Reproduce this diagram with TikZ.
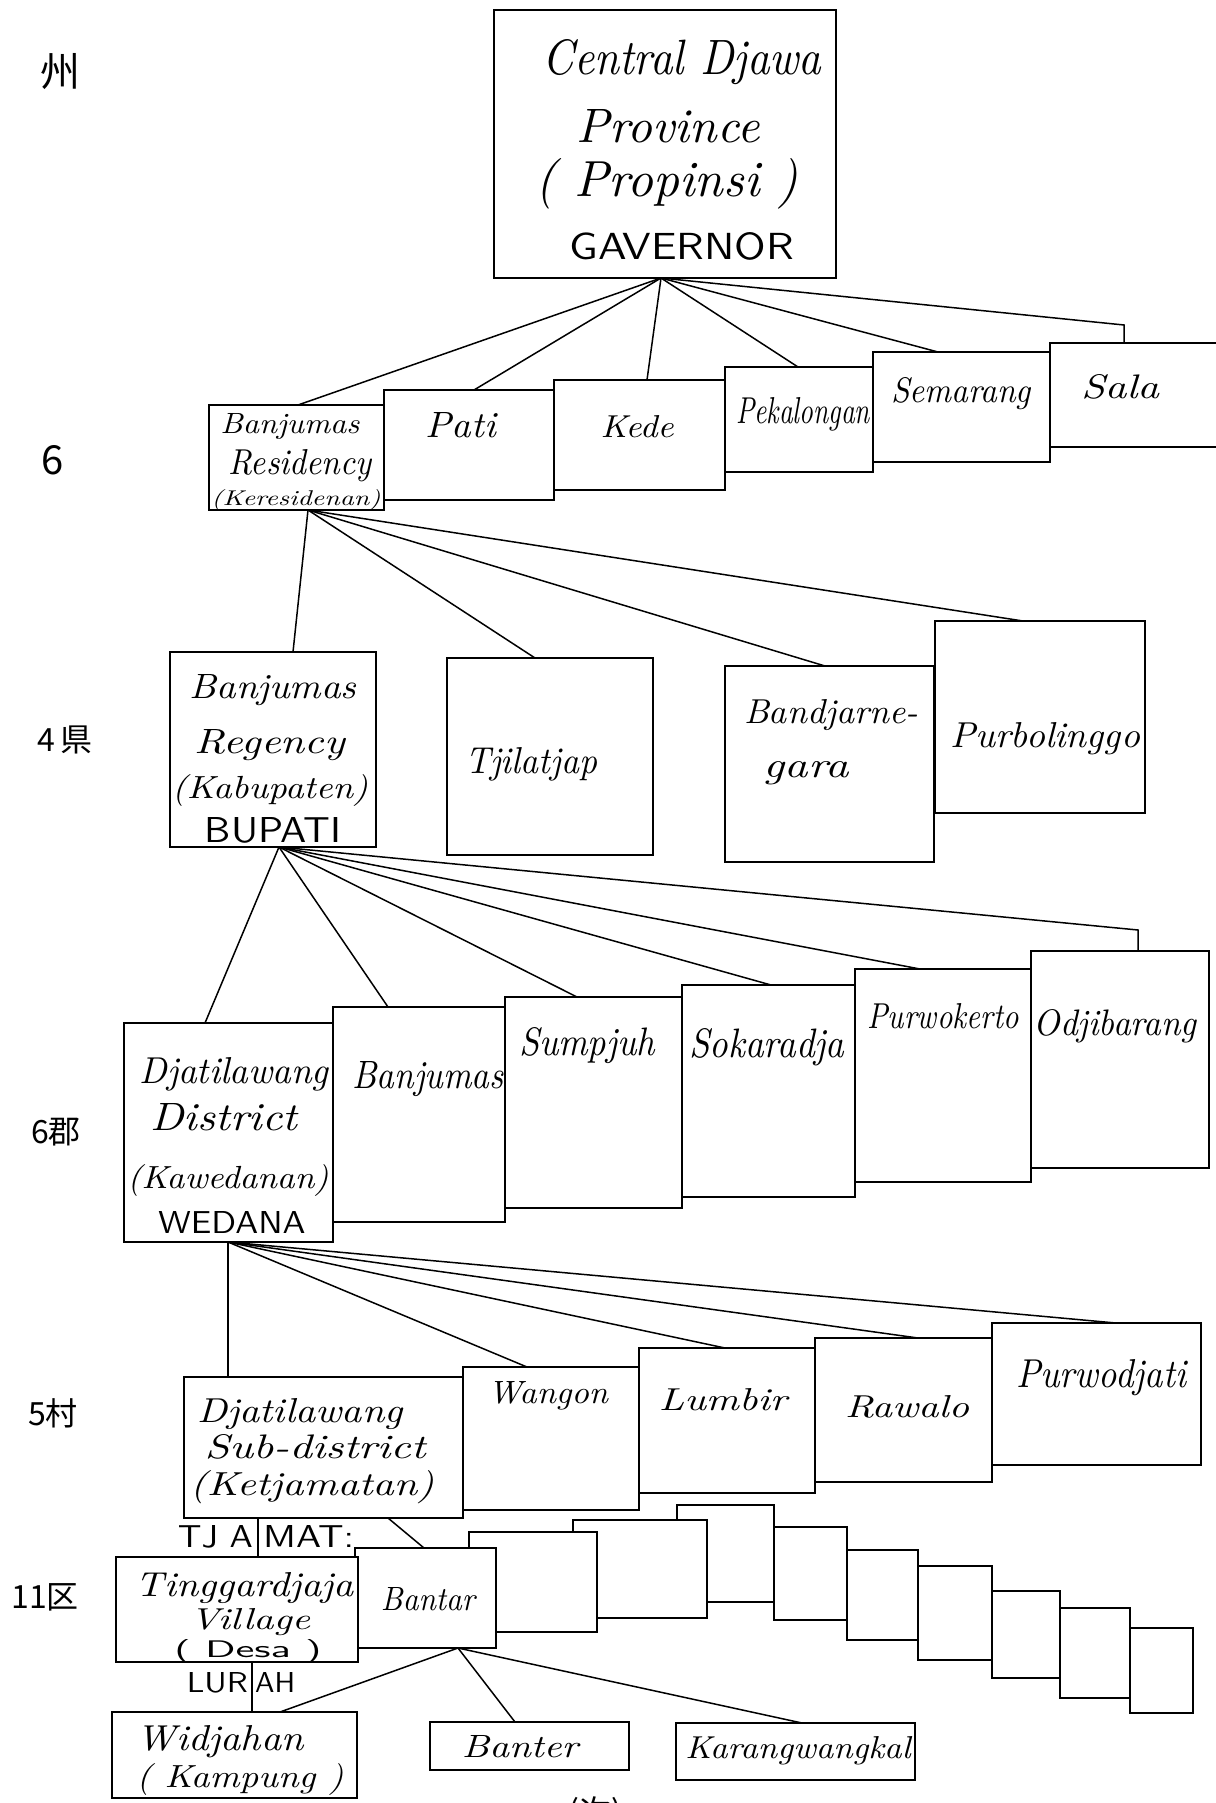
\documentclass[tikz,border=0pt]{standalone}
\usepackage{fontspec}
\usepackage{graphicx}
\newfontfamily\cjk{Noto Sans CJK JP}
\usetikzlibrary{calc}
\newcommand\fitw[3][!]{\resizebox{#2pt}{#1}{#3}}
\newcommand\mkbox[5]{\node[box, minimum width={(#4-#2)*1pt}, minimum height={(#5-#3)*1pt}] (#1) at ({(#2+#4)/2},{(#3+#5)/2}) {};}
\begin{document}
\begin{tikzpicture}[x=1pt,y=-1pt,
  box/.style={draw, line width=1.6pt, fill=white, inner sep=0pt, outer sep=0pt},
  conn/.style={line width=1.5pt},
  hw/.style={inner sep=0pt, anchor=base, font=\itshape},
  capt/.style={inner sep=0pt, anchor=base, font=\sffamily},
  side/.style={inner sep=0pt, font=\cjk\fontsize{32}{32}\selectfont}]
\useasboundingbox[fill=white] (0,0) rectangle (1215,1803);

% ---------- boxes ----------
\mkbox{Gov}{494}{10}{836}{278}
\mkbox{R1}{209}{405}{384}{510}
\mkbox{R2}{384}{390}{554}{500}
\mkbox{R3}{554}{380}{725}{490}
\mkbox{R4}{725}{367}{873}{472}
\mkbox{R5}{873}{352}{1050}{462}
\mkbox{R6}{1050}{343}{1240}{447}
\mkbox{G1}{170}{652}{376}{847}
\mkbox{G2}{447}{658}{653}{855}
\mkbox{G3}{725}{666}{934}{862}
\mkbox{G4}{935}{621}{1145}{813}
\mkbox{D1}{124}{1023}{333}{1242}
\mkbox{D2}{333}{1007}{505}{1222}
\mkbox{D3}{505}{997}{682}{1208}
\mkbox{D4}{682}{985}{855}{1197}
\mkbox{D5}{855}{969}{1031}{1182}
\mkbox{D6}{1031}{951}{1209}{1168}
\mkbox{S1}{184}{1377}{463}{1518}
\mkbox{S2}{463}{1367}{639}{1510}
\mkbox{S3}{639}{1348}{815}{1493}
\mkbox{S4}{815}{1338}{992}{1482}
\mkbox{S5}{992}{1323}{1201}{1465}
\mkbox{B9}{1130}{1628}{1193}{1713}
\mkbox{B8}{1060}{1608}{1130}{1698}
\mkbox{B7}{992}{1591}{1060}{1678}
\mkbox{B6}{918}{1566}{992}{1660}
\mkbox{B5}{847}{1550}{918}{1640}
\mkbox{B4}{774}{1527}{847}{1620}
\mkbox{B3}{677}{1505}{774}{1602}
\mkbox{B2}{573}{1520}{707}{1618}
\mkbox{B1}{469}{1532}{597}{1632}
\mkbox{V2}{355}{1548}{496}{1648}
\mkbox{V1}{116}{1557}{358}{1662}
\mkbox{K1}{112}{1712}{357}{1798}
\mkbox{K2}{430}{1722}{629}{1770}
\mkbox{K3}{676}{1723}{915}{1780}

% ---------- connectors ----------
\coordinate (a1) at ([xshift=167pt]Gov.south west);
\draw[conn] (a1) -- ([xshift=89pt]R1.north west);
\draw[conn] (a1) -- ([xshift=90pt]R2.north west);
\draw[conn] (a1) -- ([xshift=93pt]R3.north west);
\draw[conn] (a1) -- ([xshift=73pt]R4.north west);
\draw[conn] (a1) -- ([xshift=65pt]R5.north west);
\draw[conn] (a1) -- ([xshift=74pt,yshift=18pt]R6.north west) -- ([xshift=74pt]R6.north west);

\coordinate (b1) at ([xshift=99pt]R1.south west);
\draw[conn] (b1) -- ([xshift=123pt]G1.north west);
\draw[conn] (b1) -- ([xshift=88pt]G2.north west);
\draw[conn] (b1) -- ([xshift=100pt]G3.north west);
\draw[conn] (b1) -- ([xshift=88pt]G4.north west);

\coordinate (c1) at ([xshift=109pt]G1.south west);
\draw[conn] (c1) -- ([xshift=81pt]D1.north west);
\draw[conn] (c1) -- ([xshift=55pt]D2.north west);
\draw[conn] (c1) -- ([xshift=72pt]D3.north west);
\draw[conn] (c1) -- ([xshift=89pt]D4.north west);
\draw[conn] (c1) -- ([xshift=65pt]D5.north west);
\draw[conn] (c1) -- ([xshift=107pt,yshift=21pt]D6.north west) -- ([xshift=107pt]D6.north west);

\coordinate (d1) at ([xshift=104pt]D1.south west);
\draw[conn] (d1) -- (d1 |- S1.north);
\draw[conn] (d1) -- ([xshift=64pt]S2.north west);
\draw[conn] (d1) -- ([xshift=86pt]S3.north west);
\draw[conn] (d1) -- ([xshift=103pt]S4.north west);
\draw[conn] (d1) -- ([xshift=124pt]S5.north west);

\draw[conn] ([xshift=74pt]S1.south west) -- ([xshift=142pt]V1.north west);
\draw[conn] ([xshift=204pt]S1.south west) -- ([xshift=69pt]V2.north west);
\draw[conn] ([xshift=136pt]V1.south west) -- ([xshift=140pt]K1.north west);

\coordinate (e1) at ([xshift=103pt]V2.south west);
\draw[conn] (e1) -- ([xshift=168pt]K1.north west);
\draw[conn] (e1) -- ([xshift=85pt]K2.north west);
\draw[conn] (e1) -- ([xshift=126pt]K3.north west);

% ---------- texts ----------
\node[hw] (tg1) at (682,75) {\fitw[35pt]{279}{Central Djawa}};
\node[hw] (tg2) at (668,143) {\fitw[33pt]{183}{Province}};
\node[hw] (tg3) at (667,197) {\fitw{263}{( Propinsi )}};
\node[capt] (tg4) at (682,260) {\fitw[27pt]{224}{GAVERNOR}};

\node[hw] (tr1a) at (290,433) {\fitw[20pt]{139}{Banjumas}};
\node[hw] (tr1b) at (300,474) {\fitw[25pt]{143}{Residency}};
\node[hw] (tr1c) at (296,505) {\fitw[16pt]{169}{(Keresidenan)}};
\node[hw] (tr2) at (461,437) {\fitw[25pt]{70}{Pati}};
\node[hw] (tr3) at (637,437) {\fitw[22pt]{73}{Kede}};
\node[hw] (tr4) at (803,423) {\fitw[26pt]{134}{Pekalongan}};
\node[hw] (tr5) at (961,402) {\fitw[25pt]{140}{Semarang}};
\node[hw] (tr6) at (1120,398) {\fitw[24pt]{78}{Sala}};

\node[hw] (tg1a) at (273,698) {\fitw[24pt]{167}{Banjumas}};
\node[hw] (tg1b) at (270,753) {\fitw[24pt]{150}{Regency}};
\node[hw] (tg1c) at (270,798) {\fitw[24pt]{196}{(Kabupaten)}};
\node[capt] (tg1d) at (273,842) {\fitw[25pt]{136}{BUPATI}};
\node[hw] (tg2a) at (531,773) {\fitw[26pt]{132}{Tjilatjap}};
\node[hw] (tg3a) at (831,723) {\fitw[24pt]{174}{Bandjarne-}};
\node[hw] (tg3b) at (806,777) {\fitw[16pt]{85}{gara}};
\node[hw] (tg4a) at (1045,747) {\fitw[25pt]{190}{Purbolinggo}};

\node[hw] (td1a) at (234,1083) {\fitw[26pt]{189}{Djatilawang}};
\node[hw] (td1b) at (224,1130) {\fitw[27pt]{147}{District}};
\node[hw] (td1c) at (228,1188) {\fitw[24pt]{201}{(Kawedanan)}};
\node[capt] (td1d) at (232,1233) {\fitw[22pt]{147}{WEDANA}};
\node[hw] (td2) at (428,1088) {\fitw[27pt]{151}{Banjumas}};
\node[hw] (td3) at (587,1055) {\fitw[28pt]{136}{Sumpjuh}};
\node[hw] (td4) at (767,1057) {\fitw[29pt]{155}{Sokaradja}};
\node[hw] (td5) at (943,1028) {\fitw[25pt]{151}{Purwokerto}};
\node[hw] (td6) at (1115,1035) {\fitw[26pt]{163}{Odjibarang}};

\node[hw] (ts1a) at (300,1422) {\fitw[24pt]{205}{Djatilawang}};
\node[hw] (ts1b) at (315,1458) {\fitw[24pt]{221}{Sub-district}};
\node[hw] (ts1c) at (312,1495) {\fitw[25pt]{244}{(Ketjamatan)}};
\node[hw] (ts2) at (548,1403) {\fitw[22pt]{120}{Wangon}};
\node[hw] (ts3) at (723,1410) {\fitw[22pt]{128}{Lumbir}};
\node[hw] (ts4) at (907,1417) {\fitw[22pt]{124}{Rawalo}};
\node[hw] (ts5) at (1101,1387) {\fitw[28pt]{170}{Purwodjati}};

\node[capt, anchor=base east] (tja) at (253,1547) {\fitw[22pt]{75}{TJ A}};
\node[capt, anchor=base west] (mat) at (263,1547) {\fitw[22pt]{91}{MAT:}};
\node[capt, anchor=base east] (lur) at (248,1692) {\fitw[20pt]{61}{LUR}};
\node[capt, anchor=base west] (ah) at (255,1692) {\fitw[20pt]{40}{AH}};

\node[hw] (tv1a) at (245,1596) {\fitw[24pt]{218}{Tinggardjaja}};
\node[hw] (tv1b) at (250,1629) {\fitw[21pt]{120}{Village}};
\node[capt] (tv1c) at (248,1657) {\fitw[18pt]{147}{( Desa )}};
\node[hw] (tv2) at (428,1610) {\fitw[23pt]{94}{Bantar}};

\node[hw] (tk1a) at (220,1750) {\fitw[25pt]{167}{Widjahan}};
\node[hw] (tk1b) at (240,1787) {\fitw[24pt]{207}{( Kampung )}};
\node[hw] (tk2) at (520,1757) {\fitw[22pt]{116}{Banter}};
\node[hw] (tk3) at (798,1758) {\fitw[22pt]{225}{Karangwangkal}};

% ---------- side labels ----------
\node[side, font=\cjk\fontsize{40}{40}\selectfont] (L1) at (60,72) {州};
\node[side, font=\cjk\fontsize{40}{40}\selectfont] (L2) at (53,460) {6};
\node[side] (L3) at (65,740) {4\,県};
\node[side] (L4) at (56,1132) {6郡};
\node[side] (L5) at (53,1413) {5村};
\node[side] (L6) at (45,1597) {11区};
\node[side, anchor=north] (cont) at (595,1796) {(次)};
\end{tikzpicture}
\end{document}
